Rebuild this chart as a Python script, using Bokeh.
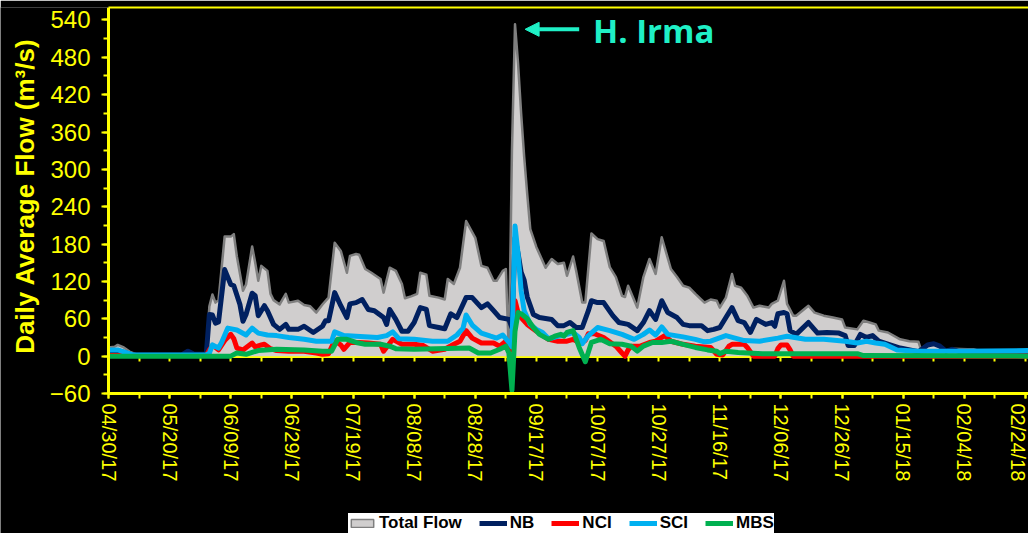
import math

import pandas as pd
from bokeh.embed import file_html
from bokeh.models import (Arrow, ColumnDataSource, DatetimeAxis, DatetimeTickFormatter, FixedTicker,
                          Label, Legend, LegendItem, NormalHead, Range1d)
from bokeh.plotting import figure
from bokeh.resources import INLINE

# Daily average flow, days counted from 04/30/17
START = pd.Timestamp("2017-04-30")

total_days = [0, 2, 3, 5, 7, 9, 12, 20, 24, 26, 28, 32, 33, 34, 35, 36, 38, 40, 41, 42,
              44, 45, 47, 48, 49, 50, 52, 53, 54, 56, 58, 59, 62, 64, 66, 68, 70, 72, 74, 76,
              78, 79, 81, 82, 84, 86, 89, 90, 92, 94, 96, 97, 99, 101, 102, 104, 105, 108, 110, 111,
              113, 115, 117, 120, 122, 124, 126, 127, 129, 130, 131, 132, 133, 134, 135, 136, 137, 138, 140, 143,
              145, 147, 149, 150, 152, 153, 155, 156, 158, 160, 162, 164, 166, 168, 169, 170, 173, 175, 177, 179,
              181, 184, 186, 188, 190, 192, 195, 197, 199, 200, 202, 204, 205, 207, 209, 211, 213, 216, 217, 219,
              221, 222, 224, 225, 229, 231, 234, 237, 240, 241, 245, 247, 249, 251, 252, 255, 259, 262, 265, 266,
              267, 270, 272, 273, 276, 281, 283, 285, 290, 295, 301]
total_flow = [14, 15, 18, 14, 7, 3, 2, 2, 3, 9, 4, 4, 80, 99, 86, 90, 192, 192, 196, 160,
              105, 115, 176, 150, 121, 145, 137, 100, 90, 83, 100, 86, 89, 82, 80, 70, 83, 94, 182, 169,
              134, 161, 164, 163, 140, 134, 124, 102, 142, 137, 116, 93, 96, 100, 134, 131, 97, 94, 91, 124,
              116, 142, 217, 190, 145, 142, 121, 121, 137, 140, 2, 330, 533, 470, 390, 320, 260, 204, 175, 142,
              156, 148, 150, 129, 160, 137, 86, 86, 197, 188, 185, 143, 127, 97, 95, 113, 78, 127, 156, 132,
              191, 140, 127, 113, 110, 100, 86, 91, 89, 78, 94, 132, 113, 110, 97, 78, 81, 78, 84, 89,
              121, 84, 65, 65, 81, 70, 65, 62, 59, 46, 43, 57, 54, 51, 41, 38, 27, 24, 23, 8,
              16, 20, 16, 8, 12, 11, 11, 8, 7, 7, 7]

nb_days = [0, 3, 5, 8, 24, 26, 28, 32, 33, 34, 35, 36, 38, 40, 41, 43, 44, 45, 47, 48,
           49, 51, 52, 54, 56, 58, 59, 62, 64, 67, 70, 71, 72, 74, 76, 78, 79, 81, 83, 85,
           87, 90, 91, 92, 94, 96, 98, 100, 102, 104, 105, 108, 110, 112, 114, 117, 119, 122, 124, 126,
           128, 131, 132, 133, 134, 135, 136, 137, 139, 141, 145, 147, 149, 151, 153, 155, 157, 158, 160, 162,
           165, 167, 170, 173, 175, 177, 179, 181, 183, 186, 188, 190, 194, 196, 198, 200, 202, 204, 206, 208,
           210, 212, 215, 217, 218, 219, 221, 222, 223, 225, 229, 232, 235, 239, 241, 242, 244, 246, 248, 250,
           252, 254, 259, 265, 268, 270, 272, 274, 276, 278, 301]
nb_flow = [8, 9, 6, 2, 2, 8, 3, 3, 67, 66, 53, 55, 139, 115, 113, 83, 56, 67, 101, 97,
           65, 81, 73, 51, 43, 51, 43, 43, 48, 38, 48, 57, 57, 102, 81, 62, 84, 86, 91, 75,
           73, 62, 51, 75, 59, 40, 40, 54, 78, 75, 49, 46, 44, 68, 62, 94, 94, 78, 84, 73,
           62, 59, 46, 190, 165, 135, 122, 95, 67, 62, 59, 49, 49, 54, 46, 46, 73, 89, 86, 86,
           65, 54, 51, 41, 54, 73, 59, 89, 70, 62, 51, 49, 49, 41, 43, 46, 62, 78, 57, 54,
           38, 59, 51, 54, 48, 68, 70, 68, 41, 35, 54, 37, 38, 37, 33, 17, 17, 35, 30, 33,
           24, 21, 13, 7, 18, 20, 16, 8, 11, 8, 8]

nci_days = [0, 32, 33, 34, 35, 36, 38, 40, 41, 42, 44, 47, 48, 50, 51, 53, 55, 59, 64, 68,
            70, 72, 74, 76, 77, 79, 82, 85, 89, 90, 93, 96, 100, 103, 106, 110, 113, 115, 117, 119,
            122, 126, 128, 130, 131, 132, 133, 134, 135, 137, 140, 144, 147, 150, 152, 154, 156, 157, 159, 162,
            166, 168, 169, 170, 171, 174, 177, 179, 182, 184, 188, 192, 197, 199, 201, 203, 204, 208, 209, 211,
            218, 219, 220, 222, 223, 224, 301]
nci_flow = [1, 1, 10, 17, 14, 10, 25, 35, 28, 13, 10, 21, 15, 18, 19, 12, 9, 8, 8, 5,
            3, 4, 25, 18, 11, 22, 22, 21, 19, 8, 27, 19, 19, 17, 8, 11, 19, 24, 41, 29,
            21, 21, 16, 24, 15, 10, 89, 70, 62, 51, 40, 27, 24, 24, 27, 22, 25, 36, 36, 30,
            16, 5, 0, 10, 16, 16, 22, 24, 33, 24, 19, 16, 14, 3, 2, 16, 19, 19, 14, 0,
            0, 12, 18, 18, 10, 0, 0]

sci_days = [0, 3, 5, 8, 32, 33, 34, 36, 37, 39, 42, 45, 47, 49, 52, 55, 59, 64, 68, 71,
            73, 74, 77, 81, 88, 91, 93, 95, 100, 106, 111, 114, 116, 117, 119, 122, 125, 127, 129, 131,
            132, 133, 134, 135, 136, 138, 140, 142, 144, 147, 150, 152, 154, 155, 157, 160, 164, 168, 172, 175,
            177, 179, 181, 183, 188, 192, 195, 197, 202, 208, 213, 219, 222, 228, 234, 241, 245, 248, 251, 254,
            258, 265, 280, 301]
sci_flow = [10, 10, 7, 2, 2, 5, 18, 13, 22, 45, 42, 34, 45, 37, 34, 33, 30, 27, 24, 24,
            24, 39, 33, 32, 30, 33, 39, 28, 27, 24, 24, 34, 45, 66, 50, 37, 32, 29, 34, 22,
            15, 209, 165, 105, 73, 51, 43, 38, 28, 32, 35, 38, 30, 20, 33, 46, 41, 35, 27, 35,
            42, 34, 47, 35, 31, 27, 23, 24, 33, 25, 24, 29, 32, 27, 27, 24, 21, 24, 21, 19,
            10, 8, 8, 9]

mbs_days = [0, 40, 42, 45, 49, 55, 64, 70, 73, 75, 78, 81, 84, 89, 92, 94, 100, 118, 121, 125,
            128, 130, 131, 132, 133, 134, 135, 137, 139, 141, 144, 146, 148, 149, 150, 152, 154, 156, 158, 161,
            164, 168, 171, 173, 175, 178, 181, 184, 188, 192, 196, 199, 200, 202, 206, 214, 245, 247, 301]
mbs_flow = [0, 0, 5, 3, 9, 11, 10, 8, 8, 27, 27, 22, 19, 19, 16, 12, 11, 13, 5, 5,
            11, 16, 5, -55, 40, 70, 68, 60, 46, 35, 27, 32, 35, 32, 38, 41, 14, -9, 22, 27,
            20, 19, 16, 8, 16, 22, 22, 24, 19, 14, 10, 8, 4, 8, 6, 4, 4, 1, 0]

# Axis ticks (days from start) and the storm date
x_major_days = list(range(0, 301, 20))
x_minor_days = list(range(0, 302, 10))
y_major = list(range(-60, 541, 60))
y_minor = list(range(-60, 561, 30))
Y_LOW, Y_HIGH = -60, 560
X_END_DAY = 301
irma_day = 133
irma_text = "H. Irma"
y_title = "Daily Average Flow (m³/s)"

YELLOW = "#FFFF00"
TEAL = "#1FF0C6"
AREA_FILL = "#D0CECE"
AREA_EDGE = "#7F7F7F"
FONT = "Liberation Sans"

# Page geometry: the chart box spans x 108..1028 and y 7..393 px.  The frame covers the
# whole page below the top line, so axes, labels and the key all live inside it.
W, H, TOP, CHART_BOTTOM, LEFT = 1028, 533, 7, 393, 108
y_floor = Y_HIGH - (Y_HIGH - Y_LOW) * (H - TOP) / (CHART_BOTTOM - TOP)
x_first_day = -X_END_DAY * LEFT / (W - LEFT)


def to_dates(days):
    return [START + pd.Timedelta(days=d) for d in days]


def ms(day):
    return (START + pd.Timedelta(days=day)).timestamp() * 1000


p = figure(width=W, height=H, output_backend="svg", toolbar_location=None,
           x_axis_type="datetime",
           x_range=Range1d(ms(x_first_day), ms(X_END_DAY)), y_range=Range1d(y_floor, Y_HIGH),
           background_fill_color="black", border_fill_color="black",
           min_border_left=0, min_border_right=0, min_border_top=TOP, min_border_bottom=0)
p.outline_line_color = None
p.grid.visible = False

date_bounds = (ms(0), ms(X_END_DAY))
fmt = "%m/%d/%y"

# date axis along the bottom of the chart box
xa = p.xaxis[0]
xa.fixed_location = Y_LOW
xa.bounds = date_bounds
xa.ticker = FixedTicker(ticks=[ms(d) for d in x_major_days],
                        minor_ticks=[ms(d) for d in x_minor_days])
xa.formatter = DatetimeTickFormatter(microseconds=fmt, milliseconds=fmt, seconds=fmt, minsec=fmt,
                                     minutes=fmt, hourmin=fmt, hours=fmt, days=fmt,
                                     months=fmt, years=fmt)
xa.major_label_orientation = "vertical"
xa.axis_line_color = YELLOW
xa.axis_line_width = 3
xa.major_tick_line_color = YELLOW
xa.minor_tick_line_color = YELLOW
xa.major_tick_line_width = 2
xa.minor_tick_line_width = 2
xa.major_tick_in = 0
xa.minor_tick_in = 0
xa.major_tick_out = 5
xa.minor_tick_out = 5
xa.major_label_standoff = 5
xa.major_label_text_color = YELLOW
xa.major_label_text_font = FONT
xa.major_label_text_font_size = "20px"

# zero line with its own 10-day tick marks, kept under the series
zero_axis = DatetimeAxis(fixed_location=0, bounds=date_bounds, level="underlay",
                         ticker=FixedTicker(ticks=[], minor_ticks=[ms(d) for d in x_minor_days[1:]]),
                         axis_line_color=YELLOW, axis_line_width=3,
                         major_tick_line_color=None, minor_tick_line_color=YELLOW,
                         minor_tick_line_width=2, minor_tick_in=0, minor_tick_out=5)
p.add_layout(zero_axis, "below")

# top line of the chart box
top_axis = DatetimeAxis(bounds=date_bounds, ticker=FixedTicker(ticks=[]),
                        axis_line_color=YELLOW, axis_line_width=2,
                        major_tick_line_color=None, minor_tick_line_color=None,
                        major_label_text_font_size="0px")
p.add_layout(top_axis, "above")

# flow axis at the first date
ya = p.yaxis[0]
ya.fixed_location = ms(0)
ya.bounds = (Y_LOW, Y_HIGH)
ya.ticker = FixedTicker(ticks=y_major, minor_ticks=y_minor)
ya.axis_line_color = YELLOW
ya.axis_line_width = 3
ya.major_tick_line_color = YELLOW
ya.minor_tick_line_color = YELLOW
ya.major_tick_line_width = 2
ya.minor_tick_line_width = 2
ya.major_tick_in = 0
ya.minor_tick_in = 0
ya.major_tick_out = 7
ya.minor_tick_out = 5
ya.major_label_standoff = 11
ya.major_label_text_color = YELLOW
ya.major_label_text_font = FONT
ya.major_label_text_font_size = "24px"

p.add_layout(Label(x=ms(x_first_day * 0.775), y=(Y_LOW + Y_HIGH) / 2 + 7, text=y_title,
                   angle=math.pi / 2, text_align="center", text_baseline="middle",
                   text_color=YELLOW, text_font=FONT, text_font_style="bold",
                   text_font_size="26px"))

# total flow as a filled area with a darker outline
src_total = ColumnDataSource(dict(date=to_dates(total_days), flow=total_flow))
p.varea(x="date", y1=0, y2="flow", source=src_total, fill_color=AREA_FILL)
p.line("date", "flow", source=src_total, line_color=AREA_EDGE, line_width=2.5, line_join="round")
# swatch for the key only (zero-size, hidden)
first = to_dates(total_days[:1])
total_key = p.quad(left=first, right=first, bottom=[0], top=[0], fill_color=AREA_FILL,
                   line_color=AREA_EDGE, line_width=1.5, visible=False)

series = [("NB", nb_days, nb_flow, "#002060"),
          ("NCI", nci_days, nci_flow, "#FF0000"),
          ("SCI", sci_days, sci_flow, "#00B0F0"),
          ("MBS", mbs_days, mbs_flow, "#00B050")]
items = [LegendItem(label="Total Flow", renderers=[total_key])]
for name, days, flow, color in series:
    r = p.line(to_dates(days), flow, line_color=color, line_width=5, line_join="round")
    items.append(LegendItem(label=name, renderers=[r]))

legend = Legend(items=items, orientation="horizontal", location=(348, 0),
                background_fill_color="white", background_fill_alpha=1.0,
                border_line_color=None, label_text_font=FONT, label_text_font_size="17px",
                label_text_font_style="bold", label_text_color="black",
                glyph_width=28, glyph_height=10, label_height=15, label_standoff=3,
                spacing=17, padding=9, margin=0)
p.add_layout(legend)

# storm annotation
p.add_layout(Arrow(end=NormalHead(size=14, fill_color=TEAL, line_color=TEAL),
                   line_color=TEAL, line_width=4,
                   x_start=ms(irma_day + 21), y_start=525, x_end=ms(irma_day + 3.3), y_end=525))
p.add_layout(Label(x=ms(irma_day + 25.5), y=523, text=irma_text, text_color=TEAL,
                   text_font="Open Sans", text_font_style="bold", text_font_size="33px",
                   text_baseline="middle"))

open("out.html", "w").write(file_html(p, INLINE))
